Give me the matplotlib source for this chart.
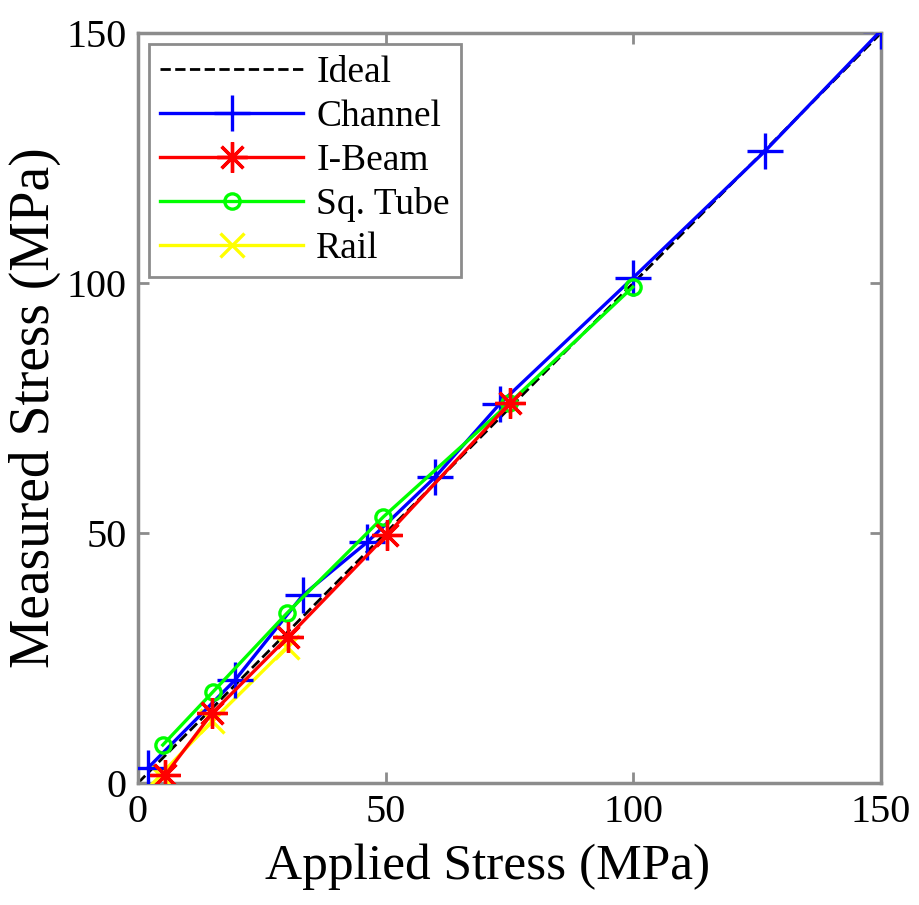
import matplotlib
matplotlib.use("Agg")
import matplotlib.pyplot as plt

plt.rcParams['font.family'] = ['Liberation Serif', 'DejaVu Serif']

# dati (MPa)
ideal_x = [0, 150]
ideal_y = [0, 150]

channel_x = [2, 19.6, 33.3, 46.3, 60, 73, 99.9, 126.6, 150]
channel_y = [3, 20.6, 37.6, 48.2, 61.2, 75.8, 101, 126.4, 150.5]

ibeam_x = [5.5, 15, 30.3, 50.2, 75.1]
ibeam_y = [1.6, 14, 29.2, 49.6, 76]

tube_x = [5.0, 15.1, 30.1, 49.5, 75, 99.9]
tube_y = [7.6, 18.2, 34, 53.2, 76, 99.2]

rail_x = [4.5, 15, 30.1]
rail_y = [1.6, 12.4, 27.2]

ticks = [0, 50, 100, 150]
gray = '#8c8c8c'

fig = plt.figure(figsize=(9.2, 9.05), dpi=100)
ax = fig.add_axes([0.15, 0.1348, 0.8076, 0.8287])

ax.plot(ideal_x, ideal_y, '--', color='black', lw=2, label='Ideal', zorder=2)
ax.plot(rail_x, rail_y, '-', color='#ffff00', lw=2.4, marker='x', ms=17, mew=2.4,
        label='Rail', zorder=3)
ax.plot(channel_x, channel_y, '-', color='#0000ff', lw=2.4, marker='+', ms=26, mew=2.4,
        label='Channel', zorder=4)
ax.plot(tube_x, tube_y, '-', color='#00ff00', lw=2.4, marker='o', ms=11, mew=2.4,
        mfc='none', label='Sq. Tube', zorder=5)
ax.plot(ibeam_x, ibeam_y, '-', color='#ff0000', lw=2.4, marker=(8, 2, 0), ms=22, mew=2.4,
        label='I-Beam', zorder=6)

ax.set_xlim(0, 150)
ax.set_ylim(0, 150)
ax.set_xticks(ticks)
ax.set_yticks(ticks)
ax.tick_params(direction='in', length=8, width=2, color=gray, top=True, right=True,
               labelsize=29, pad=8)
for s in ax.spines.values():
    s.set_color(gray)
    s.set_linewidth(2.5)

ax.set_xlabel('Applied Stress (MPa)', fontsize=37)
ax.xaxis.set_label_coords(0.47, -0.08)
ax.set_ylabel('Measured Stress (MPa)', fontsize=40)
ax.yaxis.set_label_coords(-0.103, 0.5)

handles, labels = ax.get_legend_handles_labels()
order = ['Ideal', 'Channel', 'I-Beam', 'Sq. Tube', 'Rail']
hmap = dict(zip(labels, handles))
leg = ax.legend([hmap[k] for k in order], order, loc='upper left', fontsize=27,
                fancybox=False, framealpha=1, edgecolor=gray, handlelength=3.8,
                handletextpad=0.35, labelspacing=0.25, borderpad=0.3,
                borderaxespad=0.3)
leg.get_frame().set_linewidth(2)

plt.savefig('out.png', dpi=100)
